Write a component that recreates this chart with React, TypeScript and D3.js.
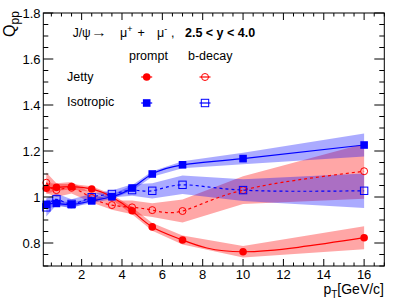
import React from "react";
import * as d3 from "d3";

const ptX = [0.25, 0.75, 1.5, 2.5, 3.5, 4.5, 5.5, 7, 10, 16];
const promptJetty = [1.038, 1.042, 1.045, 1.035, 1.0, 0.94, 0.87, 0.813, 0.762, 0.823];
const promptJettyErr = [0.025, 0.015, 0.012, 0.012, 0.012, 0.015, 0.017, 0.02, 0.025, 0.05];
const bdecayJetty = [1.062, 1.03, 1.04, 0.996, 0.965, 0.955, 0.943, 0.939, 1.03, 1.112];
const bdecayJettyErr = [0.045, 0.03, 0.025, 0.02, 0.02, 0.03, 0.03, 0.05, 0.06, 0.12];
const promptIso = [0.968, 0.972, 0.967, 0.983, 1.001, 1.039, 1.1, 1.14, 1.167, 1.226];
const promptIsoErr = [0.02, 0.012, 0.01, 0.01, 0.01, 0.012, 0.012, 0.015, 0.025, 0.05];
const bdecayIso = [0.955, 0.99, 0.97, 0.999, 1.013, 1.03, 1.027, 1.053, 1.03, 1.027];
const bdecayIsoErr = [0.04, 0.025, 0.02, 0.015, 0.015, 0.025, 0.033, 0.04, 0.047, 0.075];

const xMajor = [2, 4, 6, 8, 10, 12, 14, 16];
const yMajor = [0.8, 1.0, 1.2, 1.4, 1.6, 1.8];
const yLabels = ["0.8", "1", "1.2", "1.4", "1.6", "1.8"];

const RED = "#ff0000";
const BLUE = "#0000ff";
const FONT = "'Liberation Sans', Arial, Helvetica, sans-serif";

export default function App() {
  const W = 397, H = 306;
  const L = 43.3, R = 384.3, T = 13, B = 266;
  const x = d3.scaleLinear().domain([0.1, 17]).range([L, R]);
  const y = d3.scaleLinear().domain([0.7, 1.8]).range([B, T]);

  const series = [
    { v: promptJetty, e: promptJettyErr, c: RED, fill: "rgba(255,0,0,0.35)", dash: undefined, marker: "circle", filled: true },
    { v: bdecayJetty, e: bdecayJettyErr, c: RED, fill: "rgba(255,0,0,0.35)", dash: "3,3", marker: "circle", filled: false },
    { v: promptIso, e: promptIsoErr, c: BLUE, fill: "rgba(0,0,255,0.33)", dash: undefined, marker: "square", filled: true },
    { v: bdecayIso, e: bdecayIsoErr, c: BLUE, fill: "rgba(0,0,255,0.33)", dash: "3,3", marker: "square", filled: false },
  ];

  const band = (v: number[], e: number[]) =>
    d3.area<number>()
      .x((_, i) => x(ptX[i]))
      .y0((_, i) => y(v[i] - e[i]))
      .y1((_, i) => y(v[i] + e[i]))(v) || "";
  const line = (v: number[]) =>
    d3.line<number>()
      .x((_, i) => x(ptX[i]))
      .y((d) => y(d))
      .curve(d3.curveNatural)(v) || "";

  const marker = (cx: number, cy: number, s: any, key: string) => {
    if (s.marker === "circle") {
      return s.filled ? (
        <circle key={key} cx={cx} cy={cy} r={3.8} fill={s.c} />
      ) : (
        <circle key={key} cx={cx} cy={cy} r={3.5} fill="none" stroke={s.c} strokeWidth={1} />
      );
    }
    return s.filled ? (
      <rect key={key} x={cx - 3.8} y={cy - 3.8} width={7.6} height={7.6} fill={s.c} />
    ) : (
      <rect key={key} x={cx - 3.7} y={cy - 3.7} width={7.4} height={7.4} fill="none" stroke={s.c} strokeWidth={1} />
    );
  };

  const xMinor = d3.range(0.5, 17.01, 0.5);
  const yMinor = d3.range(0.7, 1.801, 0.05);

  return (
    <svg width={W} height={H} style={{ position: "absolute", left: 0, top: 0 }} fontFamily={FONT}>
      <rect x={0} y={0} width={W} height={H} fill="white" />
      {series.map((s, i) => (
        <path key={"b" + i} d={band(s.v, s.e)} fill={s.fill} stroke="none" />
      ))}
      {series.map((s, i) => (
        <path key={"l" + i} d={line(s.v)} fill="none" stroke={s.c} strokeWidth={1.2} strokeDasharray={s.dash} />
      ))}
      {series.map((s, i) => s.v.map((d, j) => marker(x(ptX[j]), y(d), s, `m${i}-${j}`)))}

      {/* frame */}
      <rect x={L} y={T} width={R - L} height={B - T} fill="none" stroke="black" strokeWidth={1} />
      {xMinor.map((t) => {
        const major = Math.abs(t / 2 - Math.round(t / 2)) < 1e-6;
        const len = major ? 7 : 3.5;
        return (
          <g key={"xt" + t}>
            <line x1={x(t)} x2={x(t)} y1={B} y2={B - len} stroke="black" />
            <line x1={x(t)} x2={x(t)} y1={T} y2={T + len} stroke="black" />
          </g>
        );
      })}
      {yMinor.map((t) => {
        const major = Math.abs(t / 0.2 - Math.round(t / 0.2)) < 1e-6;
        const len = major ? 10 : 5;
        return (
          <g key={"yt" + t.toFixed(2)}>
            <line x1={L} x2={L + len} y1={y(t)} y2={y(t)} stroke="black" />
            <line x1={R} x2={R - len} y1={y(t)} y2={y(t)} stroke="black" />
          </g>
        );
      })}
      {xMajor.map((t) => (
        <text key={"xl" + t} x={x(t)} y={279} fontSize={13} textAnchor="middle">{t}</text>
      ))}
      {yMajor.map((t, i) => (
        <text key={"yl" + t} x={40.5} y={y(t) + 4.6} fontSize={13} textAnchor="end">{yLabels[i]}</text>
      ))}

      {/* axis titles */}
      <text transform="translate(14.5,37) rotate(-90)" fontSize={16}>
        Q<tspan fontSize={12} dy={4}>pp</tspan>
      </text>
      <text x={384} y={294} fontSize={14} textAnchor="end">
        p<tspan fontSize={10} dy={4}>T</tspan><tspan dy={-4}>[GeV/c]</tspan>
      </text>

      {/* header */}
      <text x={72.7} y={37} fontSize={12}>J/ψ</text>
      <text x={91} y={37} fontSize={12.5} textLength={16} lengthAdjust="spacingAndGlyphs">→</text>
      <text y={37} fontSize={12.5}>
        <tspan x={120}>μ</tspan>
        <tspan fontSize={9} dy={-5}>+</tspan>
        <tspan x={137.5} dy={5}>+</tspan>
        <tspan x={157}>μ</tspan>
        <tspan fontSize={9} dy={-5}>-</tspan>
        <tspan x={171} dy={5}>,</tspan>
        <tspan x={185} fontWeight="bold">2.5 &lt; y &lt; 4.0</tspan>
      </text>

      {/* legend */}
      <text x={129} y={60} fontSize={12.5}>prompt</text>
      <text x={188} y={60} fontSize={12.5}>b-decay</text>
      <text x={67} y={81} fontSize={12.5}>Jetty</text>
      <text x={67} y={106} fontSize={12.5}>Isotropic</text>
      {[
        { cx: 146.7, cy: 77, s: series[0] },
        { cx: 205, cy: 77, s: series[1] },
        { cx: 146.7, cy: 103, s: series[2] },
        { cx: 205, cy: 103, s: series[3] },
      ].map((m, i) => (
        <g key={"lg" + i}>
          <line x1={m.cx - 5.5} x2={m.cx + 5.5} y1={m.cy} y2={m.cy} stroke={m.s.c} strokeWidth={1.2} />
          {marker(m.cx, m.cy, m.s, "lgm" + i)}
        </g>
      ))}
    </svg>
  );
}
